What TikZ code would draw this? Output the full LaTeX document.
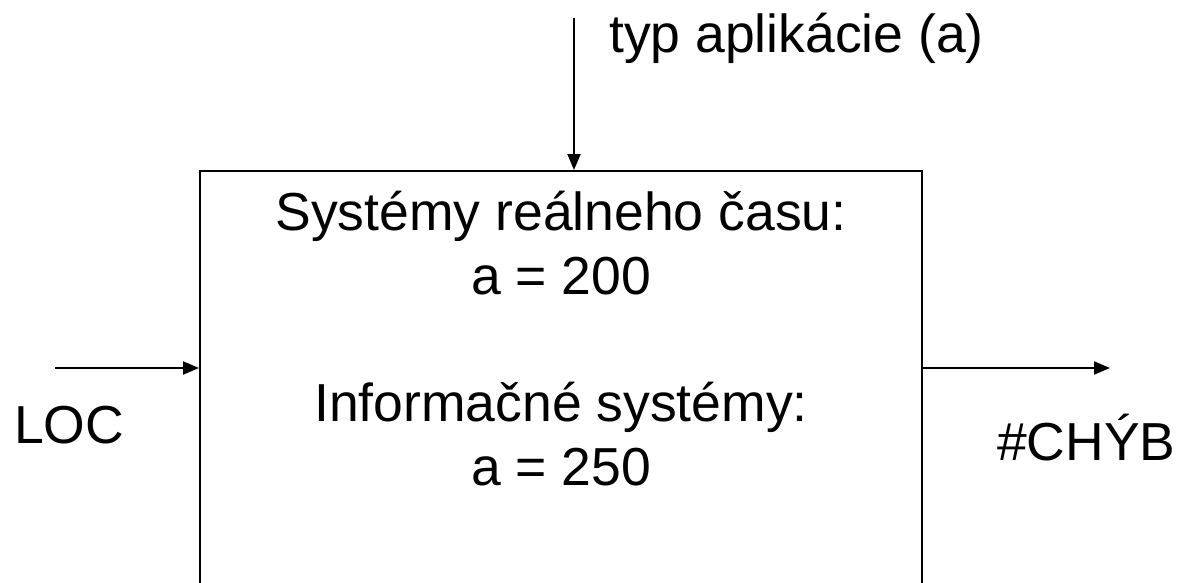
\documentclass[tikz,border=0pt]{standalone}
\usepackage{fontspec}
\setmainfont{Liberation Sans}
\usetikzlibrary{arrows.meta, positioning}

\begin{document}
\begin{tikzpicture}[x = 1pt, y = -1pt]
        \tikzstyle{txt} = [inner sep = 0pt, font = \fontsize{53.5}{64}\selectfont]
        \tikzstyle{block} = [draw = black, line width = 2pt, minimum width = 722pt, minimum height = 480pt, inner sep = 0pt]
        \tikzstyle{connect} = [-{Triangle[length = 16pt, width = 13pt]}, line width = 2pt]
        \useasboundingbox (0,0) rectangle (1180,583);
        \clip (0,0) rectangle (1180,583);
        \node[block, anchor = north] (sys) at (561,170) {};
        \node[txt, anchor = base] (rtTitle) at (561,230) {Systémy reálneho času:};
        \node[txt, anchor = base] (rtVal) at (561,294) {a = 200};
        \node[txt, anchor = base] (isTitle) at (561,421) {Informačné systémy:};
        \node[txt, anchor = base] (isVal) at (561,485) {a = 250};
        \coordinate (appIn) at (574,18);
        \coordinate (locIn) at (55,368);
        \coordinate (errOut) at (1110,368);
        \node[txt, anchor = base west] (app) at (609,53) {typ aplikácie (a)};
        \node[txt, anchor = base west] (loc) at (14,443) {LOC};
        \node[txt, anchor = base west] (err) at (997,460) {\#CHÝB};
        \draw[connect] (appIn) -- (appIn |- sys.north);
        \draw[connect] (locIn) -- (locIn -| sys.west);
        \draw[connect] (errOut -| sys.east) -- (errOut);
      \end{tikzpicture}
\end{document}
